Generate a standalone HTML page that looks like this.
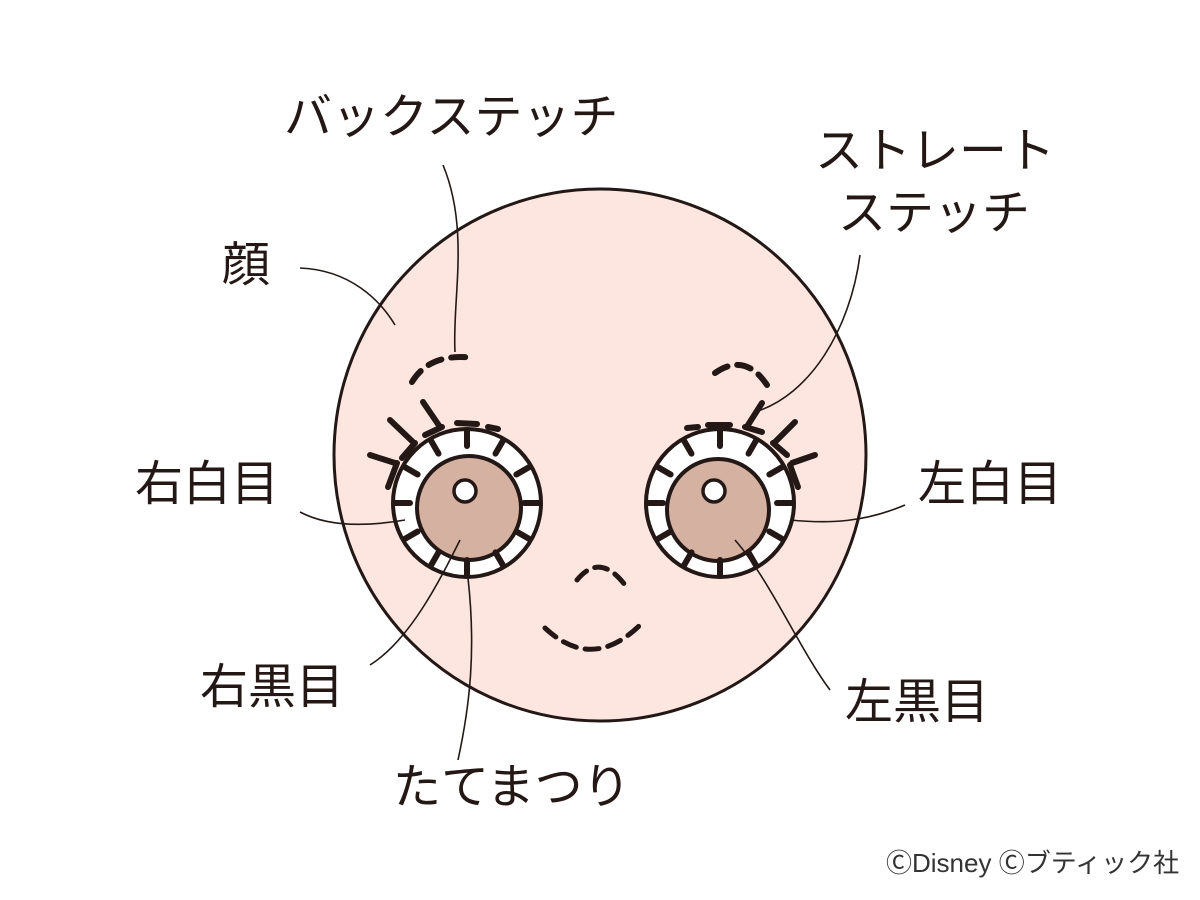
<!DOCTYPE html>
<html><head><meta charset="utf-8"><style>
html,body{margin:0;padding:0;background:#fff;}
svg{display:block}
text{font-family:"Liberation Sans","Noto Sans CJK JP",sans-serif;fill:#231815;}
</style></head><body>
<svg width="1200" height="900" viewBox="0 0 1200 900" xmlns="http://www.w3.org/2000/svg">
<circle cx="600" cy="455" r="266" fill="#fce6df" stroke="#231815" stroke-width="3"/>
<g stroke="#231815" fill="none" stroke-linecap="round">
 <path d="M412 382 Q430 352 475 358" stroke-width="6" stroke-dasharray="14 10"/>
 <path d="M715 373 Q745 352 767 385" stroke-width="6" stroke-dasharray="14 10"/>
 <path d="M577 580 Q600 552 625 585" stroke-width="5" stroke-dasharray="13 9"/>
 <path d="M545 628 Q592 672 640 625" stroke-width="5" stroke-dasharray="14 9"/>
</g>
<g stroke="#231815">
 <circle cx="467" cy="503" r="74" fill="#fff" stroke-width="4"/>
 <circle cx="469" cy="508" r="52" fill="#d4b1a0" stroke-width="4"/>
 <circle cx="465" cy="491" r="11" fill="#fff" stroke-width="3.5"/>
 <circle cx="720" cy="503" r="74" fill="#fff" stroke-width="4"/>
 <circle cx="718" cy="510" r="51" fill="#d4b1a0" stroke-width="4"/>
 <circle cx="714" cy="491" r="11" fill="#fff" stroke-width="3.5"/>
</g>
<g stroke="#231815" stroke-width="6" stroke-linecap="round">
 <g transform="translate(467 503)">
  <line x1="0" y1="-72" x2="0" y2="-57" transform="rotate(0)"/><line x1="0" y1="-72" x2="0" y2="-57" transform="rotate(30)"/><line x1="0" y1="-72" x2="0" y2="-57" transform="rotate(60)"/><line x1="0" y1="-72" x2="0" y2="-57" transform="rotate(90)"/><line x1="0" y1="-72" x2="0" y2="-57" transform="rotate(120)"/><line x1="0" y1="-72" x2="0" y2="-57" transform="rotate(150)"/><line x1="0" y1="-72" x2="0" y2="-57" transform="rotate(180)"/><line x1="0" y1="-72" x2="0" y2="-57" transform="rotate(210)"/><line x1="0" y1="-72" x2="0" y2="-57" transform="rotate(240)"/><line x1="0" y1="-72" x2="0" y2="-57" transform="rotate(270)"/><line x1="0" y1="-72" x2="0" y2="-57" transform="rotate(300)"/><line x1="0" y1="-72" x2="0" y2="-57" transform="rotate(330)"/>
 </g>
 <g transform="translate(720 503)">
  <line x1="0" y1="-72" x2="0" y2="-57" transform="rotate(0)"/><line x1="0" y1="-72" x2="0" y2="-57" transform="rotate(30)"/><line x1="0" y1="-72" x2="0" y2="-57" transform="rotate(60)"/><line x1="0" y1="-72" x2="0" y2="-57" transform="rotate(90)"/><line x1="0" y1="-72" x2="0" y2="-57" transform="rotate(120)"/><line x1="0" y1="-72" x2="0" y2="-57" transform="rotate(150)"/><line x1="0" y1="-72" x2="0" y2="-57" transform="rotate(180)"/><line x1="0" y1="-72" x2="0" y2="-57" transform="rotate(210)"/><line x1="0" y1="-72" x2="0" y2="-57" transform="rotate(240)"/><line x1="0" y1="-72" x2="0" y2="-57" transform="rotate(270)"/><line x1="0" y1="-72" x2="0" y2="-57" transform="rotate(300)"/><line x1="0" y1="-72" x2="0" y2="-57" transform="rotate(330)"/>
 </g>
 <line x1="423" y1="402" x2="440" y2="427"/><line x1="425" y1="435" x2="442" y2="427"/>
 <line x1="390" y1="420" x2="413" y2="442"/><line x1="402" y1="458" x2="415" y2="443"/>
 <line x1="370" y1="455" x2="395" y2="463"/><line x1="388" y1="487" x2="397" y2="463"/>
 <line x1="457" y1="423" x2="477" y2="424"/><line x1="488" y1="427" x2="498" y2="429"/>
 <line x1="762" y1="403" x2="748" y2="425"/><line x1="745" y1="427" x2="762" y2="432"/>
 <line x1="795" y1="422" x2="775" y2="442"/><line x1="773" y1="443" x2="787" y2="455"/>
 <line x1="815" y1="455" x2="792" y2="463"/><line x1="790" y1="465" x2="798" y2="487"/>
 <line x1="687" y1="428" x2="698" y2="427"/><line x1="708" y1="425" x2="730" y2="425"/>
</g>
<g stroke="#231815" stroke-width="1.6" fill="none">
 <path d="M443 165 C470 230 452 300 455 352"/>
 <path d="M300 268 C350 270 380 300 395 325"/>
 <path d="M860 255 C850 330 810 395 755 412"/>
 <path d="M300 512 C330 528 370 526 405 520"/>
 <path d="M790 520 C830 524 865 522 905 505"/>
 <path d="M370 665 C410 640 440 580 460 540"/>
 <path d="M468 578 C476 650 470 705 458 760"/>
 <path d="M735 540 C770 580 800 650 830 690"/>
</g>
<g font-size="48">
 <text x="284" y="133">バックステッチ</text>
 <text x="815" y="167">ストレート</text>
 <text x="838" y="229">ステッチ</text>
 <text x="222" y="281">顔</text>
 <text x="135" y="500">右白目</text>
 <text x="918" y="500">左白目</text>
 <text x="200" y="703">右黒目</text>
 <text x="845" y="718">左黒目</text>
 <text x="393" y="803">たてまつり</text>
</g>
<text x="886" y="872" font-size="26" style="fill:#333">ⒸDisney  Ⓒブティック社</text>
</svg>
</body></html>
